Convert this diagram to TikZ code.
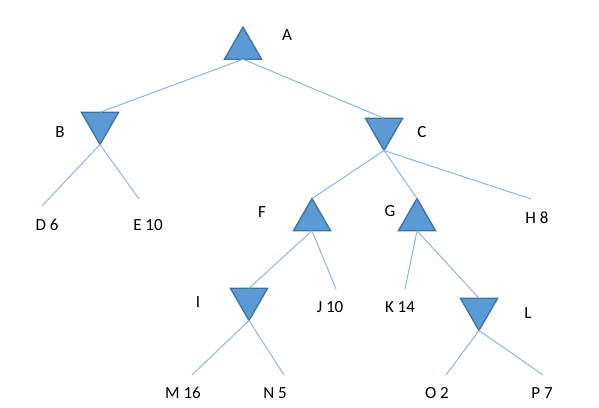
\documentclass[tikz,border=0pt]{standalone}
\usepackage{fontspec}
\setmainfont{Carlito}
\usetikzlibrary{shapes.geometric}
\definecolor{Fill}{HTML}{5B9BD5}
\definecolor{Edge}{HTML}{41719C}
\definecolor{Wire}{HTML}{8DB6E2}
\tikzset{
  max node/.style={regular polygon,regular polygon sides=3,draw=Edge,line width=1.3pt,
    fill=Fill,minimum size=43pt,inner sep=0pt,outer sep=0pt},
  min node/.style={max node,shape border rotate=180},
  tree line/.style={draw=Wire,line width=1pt},
  tree label/.style={font=\fontsize{17}{20}\selectfont,text=black,inner sep=1pt}
}
\begin{document}
\begin{tikzpicture}[x=1pt,y=-1pt]
  \useasboundingbox (0,0) rectangle (599,407);
  % players
  \node[max node] (A) at (243,48.5) {};
  \node[min node] (B) at (100,123) {};
  \node[min node] (C) at (384,129) {};
  \node[max node] (F) at (312,220) {};
  \node[max node] (G) at (417,220) {};
  \node[min node] (I) at (249,299) {};
  \node[min node] (L) at (479,309) {};
  \node[tree label] (labA) at (287,35) {A};
  \node[tree label] (labB) at (60,132) {B};
  \node[tree label] (labC) at (422,132) {C};
  \node[tree label] (labF) at (262,212) {F};
  \node[tree label] (labG) at (390,211) {G};
  \node[tree label] (labI) at (198,302) {I};
  \node[tree label] (labL) at (528,313) {L};
  % leaves
  \coordinate (d) at (42,206);
  \coordinate (e) at (139,199);
  \coordinate (h) at (531,199);
  \coordinate (j) at (336,289);
  \coordinate (k) at (405,289);
  \coordinate (m) at (192,375);
  \coordinate (n) at (284,375);
  \coordinate (o) at (446,375);
  \coordinate (p) at (543,375);
  \node[tree label] (D) at (47,225) {D 6};
  \node[tree label] (E) at (148,225) {E 10};
  \node[tree label] (H) at (537,218) {H 8};
  \node[tree label] (J) at (330,307) {J 10};
  \node[tree label] (K) at (400,307) {K 14};
  \node[tree label] (M) at (183,393) {M 16};
  \node[tree label] (N) at (275,393) {N 5};
  \node[tree label] (O) at (437,393) {O 2};
  \node[tree label] (P) at (542,393) {P 7};
  % edges
  \draw[tree line] (A.side 2) -- (B.side 2);
  \draw[tree line] (A.side 2) -- (C.side 2);
  \draw[tree line] (B.corner 1) -- (d);
  \draw[tree line] (B.corner 1) -- (e);
  \draw[tree line] (C.corner 1) -- (F.corner 1);
  \draw[tree line] (C.corner 1) -- (G.corner 1);
  \draw[tree line] (C.corner 1) -- (h);
  \draw[tree line] (F.side 2) -- (I.side 2);
  \draw[tree line] (F.side 2) -- (j);
  \draw[tree line] (G.side 2) -- (k);
  \draw[tree line] (G.side 2) -- (L.side 2);
  \draw[tree line] (I.corner 1) -- (m);
  \draw[tree line] (I.corner 1) -- (n);
  \draw[tree line] (L.corner 1) -- (o);
  \draw[tree line] (L.corner 1) -- (p);
\end{tikzpicture}
\end{document}
